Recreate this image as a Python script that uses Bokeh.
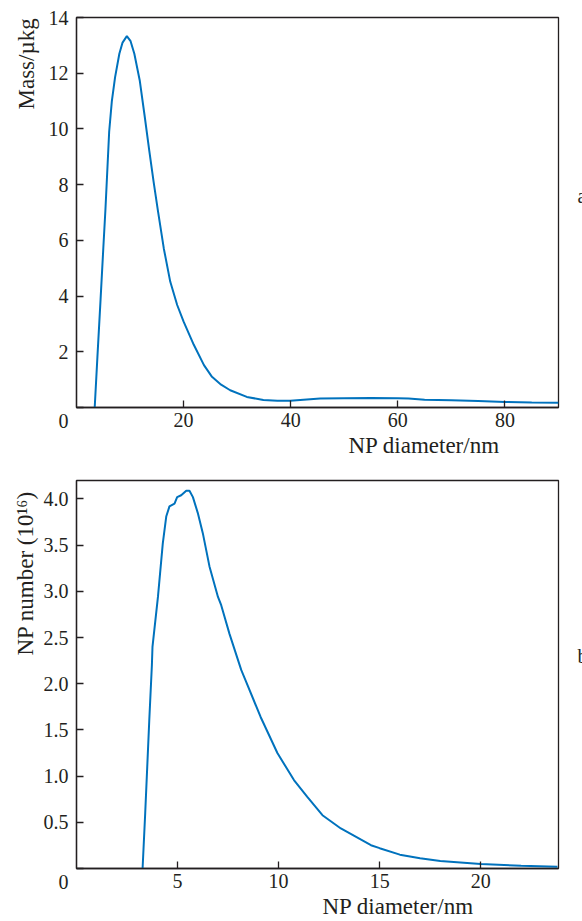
from bokeh.plotting import figure
from bokeh.models import (Range1d, FixedTicker, Title, LinearAxis,
                          GlobalInlineStyleSheet)
from bokeh.layouts import column
from bokeh.embed import file_html
from bokeh.resources import INLINE

# ---- data: panel a (mass distribution) ----
mass_diam = [3.4, 3.9, 4.5, 5.0, 5.4, 6.1, 6.6, 7.2, 8.0, 8.6, 9.4, 10.1, 10.8,
             11.8, 12.7, 13.6, 14.4, 15.2, 16.3, 17.5, 18.8, 20.0, 21.9, 23.8,
             25.3, 27.0, 28.7, 31.8, 34.9, 37.5, 39.9, 45.5, 50, 55, 60, 62, 65, 70,
             75, 80, 85, 90]
mass_val = [0, 1.8, 3.9, 5.7, 7.1, 9.9, 11.0, 11.85, 12.7, 13.1, 13.33, 13.15,
            12.7, 11.75, 10.5, 9.2, 8.1, 7.07, 5.71, 4.52, 3.68, 3.08, 2.25, 1.52,
            1.1, 0.82, 0.62, 0.38, 0.27, 0.24, 0.24, 0.32, 0.33, 0.34, 0.33, 0.32,
            0.28, 0.26, 0.23, 0.20, 0.18, 0.17]
mass_xticks = [20, 40, 60, 80]
mass_yticks = [0, 2, 4, 6, 8, 10, 12, 14]

# ---- data: panel b (number distribution) ----
num_diam = [3.27, 3.4, 3.5, 3.6, 3.73, 3.76, 4.03, 4.27, 4.44, 4.6, 4.85, 4.98, 5.18,
            5.43, 5.59, 5.76, 6.0, 6.25, 6.58, 7.0, 7.16, 7.57, 8.15, 8.36, 9.11,
            9.94, 10.76, 11.42, 12.17, 13.08, 14.57, 15.0, 16.0, 17.0, 18.0, 20.0,
            22.0, 23.8]
num_val = [0, 0.6, 1.1, 1.6, 2.2, 2.4, 2.94, 3.52, 3.81, 3.92, 3.95, 4.02, 4.04, 4.09,
           4.09, 4.02, 3.85, 3.63, 3.27, 2.94, 2.85, 2.54, 2.15, 2.04, 1.64, 1.25,
           0.957, 0.776, 0.577, 0.433, 0.252, 0.22, 0.15, 0.11, 0.08, 0.05, 0.03, 0.02]
num_xticks = [5, 10, 15, 20]
num_yticks = [0, 0.5, 1.0, 1.5, 2.0, 2.5, 3.0, 3.5, 4.0]

FONT = "Liberation Serif"
BLUE = "#0072BD"
INK = "#231f20"


def style_axis(ax, tick_len):
    ax.major_tick_in = tick_len
    ax.major_tick_out = 0
    ax.minor_tick_in = 0
    ax.minor_tick_out = 0
    ax.major_tick_line_color = INK
    ax.major_tick_line_width = 1.3
    ax.major_label_text_font = FONT
    ax.major_label_text_font_size = "20px"
    ax.major_label_text_color = INK


def make_panel(xs, ys, xr, yr, xticks, yticks, h, bt, fh, ylabel, ylab_off,
               ylab_standoff, xlab_off, panel_letter, letter_y, ytick_fmt):
    p = figure(width=590, height=h, output_backend="svg", toolbar_location=None,
               x_range=Range1d(*xr), y_range=Range1d(*yr),
               min_border_left=76, min_border_right=32, min_border_top=bt,
               min_border_bottom=h - bt - fh)
    p.grid.visible = False
    p.background_fill_color = "white"
    p.border_fill_color = "white"
    p.outline_line_color = INK
    p.outline_line_width = 1.3
    p.outline_line_alpha = 1.0
    for ax in (p.xaxis[0], p.yaxis[0]):
        ax.axis_line_color = INK
        ax.axis_line_width = 1.3
        style_axis(ax, 7)
    p.xaxis[0].ticker = FixedTicker(ticks=xticks)
    p.yaxis[0].ticker = FixedTicker(ticks=yticks)
    p.xaxis[0].major_label_standoff = 5
    p.yaxis[0].major_label_standoff = 8
    overrides = {}
    if ytick_fmt:
        overrides = {t: f"{t:.1f}" for t in yticks}
    # shared origin "0" sits one line below the corner
    overrides[yr[0]] = "\n0"
    p.yaxis[0].major_label_overrides = overrides

    p.line(xs, ys, line_color=BLUE, line_width=2)

    # panel letter at the right edge (partly outside the window)
    letter_ax = LinearAxis(ticker=FixedTicker(ticks=[letter_y]),
                           major_label_standoff=19)
    letter_ax.axis_line_color = None
    style_axis(letter_ax, 0)
    letter_ax.major_label_overrides = {letter_y: panel_letter}
    p.add_layout(letter_ax, "right")

    # axis titles as side-panel titles
    p.add_layout(Title(text="NP diameter/nm", align="left", offset=xlab_off,
                       standoff=3, text_font=FONT, text_font_size="23px",
                       text_font_style="normal", text_color=INK), "below")
    p.add_layout(Title(text=ylabel, align="left", offset=ylab_off,
                       standoff=ylab_standoff, text_font=FONT,
                       text_font_size="23px", text_font_style="normal",
                       text_color=INK), "left")
    return p


p1 = make_panel(mass_diam, mass_val, (0, 90), (0, 14), mass_xticks, mass_yticks,
                466, 17, 390, "Mass/µkg", 298, 14, 272, "a", 7.6, False)
p2 = make_panel(num_diam, num_val, (0, 23.85), (0, 4.2), num_xticks, num_yticks,
                455, 14, 388, "NP number (10¹⁶)", 213, 6, 246, "b", 2.3, True)

p = column(p1, p2, spacing=0,
           stylesheets=[GlobalInlineStyleSheet(css="html, body { overflow: hidden; }")])

open("out.html", "w").write(file_html(p, INLINE))
